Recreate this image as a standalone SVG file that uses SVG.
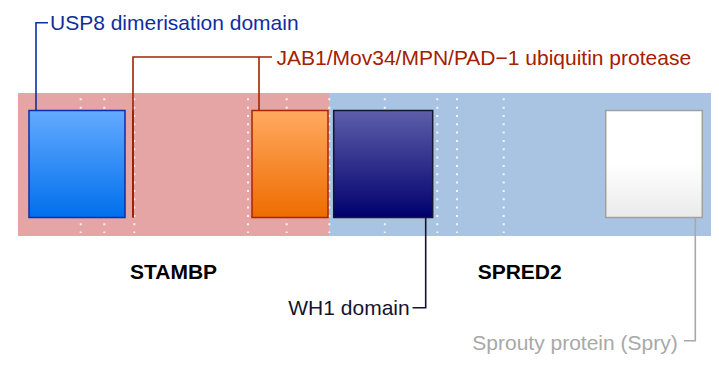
<svg xmlns="http://www.w3.org/2000/svg" width="719" height="366" viewBox="0 0 719 366">
  <defs>
    <linearGradient id="gBlue" x1="0" y1="0" x2="0" y2="1">
      <stop offset="0" stop-color="#64AAFF"/>
      <stop offset="1" stop-color="#006FEC"/>
    </linearGradient>
    <linearGradient id="gOrange" x1="0" y1="0" x2="0" y2="1">
      <stop offset="0" stop-color="#FFAA60"/>
      <stop offset="1" stop-color="#EE6C00"/>
    </linearGradient>
    <linearGradient id="gNavy" x1="0" y1="0" x2="0" y2="1">
      <stop offset="0" stop-color="#5E5EAA"/>
      <stop offset="1" stop-color="#00006E"/>
    </linearGradient>
    <linearGradient id="gWhite" x1="0" y1="0" x2="0" y2="1">
      <stop offset="0" stop-color="#FFFFFF"/>
      <stop offset="0.5" stop-color="#FFFFFF"/>
      <stop offset="1" stop-color="#EAEAEA"/>
    </linearGradient>
  </defs>
  <style>
    text { font-family: "Liberation Sans", Arial, sans-serif; font-size: 21px; }
    .bold { font-weight: bold; fill: #000000; }
    .dots { stroke: #FFFFFF; stroke-width: 2; stroke-dasharray: 2 6.33; opacity: 0.85; fill: none; }
    .conn { fill: none; stroke-width: 1.6; }
    .box { stroke-width: 1.5; }
  </style>

  <g id="backgrounds">
    <rect x="18" y="93" width="311" height="143" fill="#E5A5A5"/>
    <rect x="329" y="93" width="382" height="143" fill="#A8C4E2"/>
  </g>

  <g id="gridlines">
    <line class="dots" x1="80.7" y1="98.3" x2="80.7" y2="233"/>
    <line class="dots" x1="104.3" y1="98.3" x2="104.3" y2="233"/>
    <line class="dots" x1="134.3" y1="98.3" x2="134.3" y2="233"/>
    <line class="dots" x1="248" y1="98.3" x2="248" y2="233"/>
    <line class="dots" x1="286.7" y1="98.3" x2="286.7" y2="233"/>
    <line class="dots" x1="329.3" y1="98.3" x2="329.3" y2="233"/>
    <line class="dots" x1="384.8" y1="98.3" x2="384.8" y2="233"/>
    <line class="dots" x1="437.3" y1="98.3" x2="437.3" y2="233"/>
    <line class="dots" x1="457" y1="98.3" x2="457" y2="233"/>
    <line class="dots" x1="503.7" y1="98.3" x2="503.7" y2="233"/>
  </g>

  <g id="usp8">
    <rect class="box" x="29" y="110.5" width="96" height="107" fill="url(#gBlue)" stroke="#0A2FA6"/>
  </g>
  <g id="jab1">
    <rect x="132" y="110.5" width="2" height="107" fill="#A32200"/>
    <rect class="box" x="252" y="110.5" width="76" height="107" fill="url(#gOrange)" stroke="#A32800"/>
  </g>
  <g id="wh1">
    <rect class="box" x="333.7" y="110.5" width="99" height="107" fill="url(#gNavy)" stroke="#16162E"/>
  </g>
  <g id="spry">
    <rect class="box" x="605.7" y="110.5" width="96.6" height="107" fill="url(#gWhite)" stroke="#A0A0A0"/>
  </g>

  <g id="connectors">
    <path class="conn" d="M36,110.5 V22.7 H48" stroke="#0A2FA6"/>
    <path class="conn" d="M133,217.5 V57 H272" stroke="#A32200"/>
    <path class="conn" d="M259,57 V110.5" stroke="#A32200"/>
    <path class="conn" d="M412.5,307.7 H425.7 V217.5" stroke="#14142C"/>
    <path class="conn" d="M684,340.7 H695.3 V217.5" stroke="#A8A8A8"/>
  </g>

  <g id="labels">
    <text x="50" y="30" fill="#0F2E9E">USP8 dimerisation domain</text>
    <text x="276.5" y="65" fill="#A32000">JAB1/Mov34/MPN/PAD−1 ubiquitin protease</text>
    <text class="bold" x="130" y="279">STAMBP</text>
    <text class="bold" x="477.7" y="279">SPRED2</text>
    <text x="288.3" y="315" fill="#14142C">WH1 domain</text>
    <text x="472.3" y="350" fill="#A8A8A8">Sprouty protein (Spry)</text>
  </g>
</svg>
